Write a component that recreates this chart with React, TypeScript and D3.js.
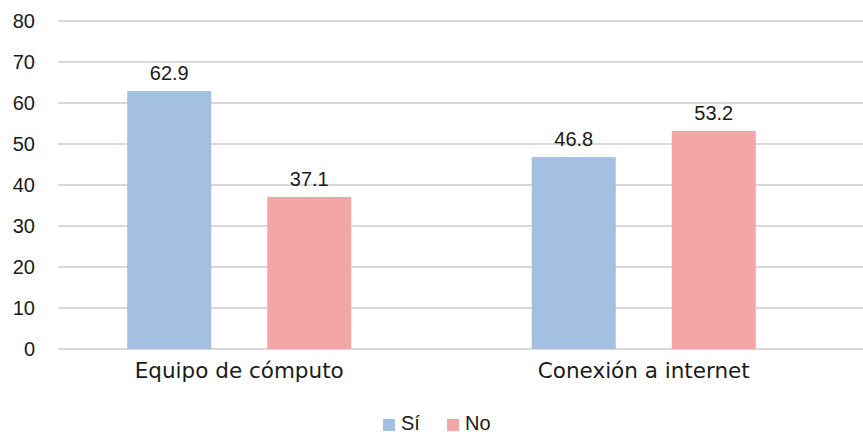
import React from "react";
import * as d3 from "d3";

const categories = ["Equipo de cómputo", "Conexión a internet"];
const seriesNames = ["Sí", "No"];
const siValues = [62.9, 46.8];
const noValues = [37.1, 53.2];
const yTicks = [0, 10, 20, 30, 40, 50, 60, 70, 80];
const colors = ["#A3BFE2", "#F4A6A6"];

const W = 863;
const H = 434;

export default function App() {
  const x0 = d3.scaleBand<string>().domain(categories).range([37, 846]).padding(0);
  const x1 = d3.scaleBand<string>().domain(seriesNames).range([-140, 140]).paddingInner(0.4).paddingOuter(0.2);
  const y = d3.scaleLinear().domain([0, 80]).range([349, 21]);
  const seriesValues = [siValues, noValues];
  const numFont = "'Liberation Sans', Arial, sans-serif";
  const catFont = "'DejaVu Sans', sans-serif";

  return (
    <svg width={W} height={H} style={{ position: "absolute", left: 0, top: 0, background: "#fff" }}>
      {yTicks.map((t) => (
        <g key={t}>
          <line x1={58} x2={W} y1={y(t)} y2={y(t)} stroke="#D9D9D9" strokeWidth={2} />
          <text x={35} y={y(t) + 7} textAnchor="end" fontFamily={numFont} fontSize={20} fill="#1a1a1a">
            {t}
          </text>
        </g>
      ))}
      {categories.map((c, ci) => {
        const cx = (x0(c) ?? 0) + x0.bandwidth() / 2;
        return (
          <g key={c}>
            {seriesNames.map((s, si) => {
              const v = seriesValues[si][ci];
              const bx = cx + (x1(s) ?? 0);
              return (
                <g key={s}>
                  <rect x={bx} y={y(v)} width={x1.bandwidth()} height={y(0) - y(v)} fill={colors[si]} />
                  <text x={bx + x1.bandwidth() / 2} y={y(v) - 11} textAnchor="middle" fontFamily={numFont} fontSize={20} fill="#1a1a1a">
                    {v.toFixed(1)}
                  </text>
                </g>
              );
            })}
            <text x={cx} y={378} textAnchor="middle" fontFamily={catFont} fontSize={21.5} fill="#1a1a1a">
              {c}
            </text>
          </g>
        );
      })}
      {seriesNames.map((s, si) => {
        const lx = si === 0 ? 383 : 447;
        return (
          <g key={s}>
            <rect x={lx} y={419} width={12} height={12} fill={colors[si]} />
            <text x={lx + 18} y={430} fontFamily={numFont} fontSize={20} fill="#1a1a1a">
              {s}
            </text>
          </g>
        );
      })}
    </svg>
  );
}
